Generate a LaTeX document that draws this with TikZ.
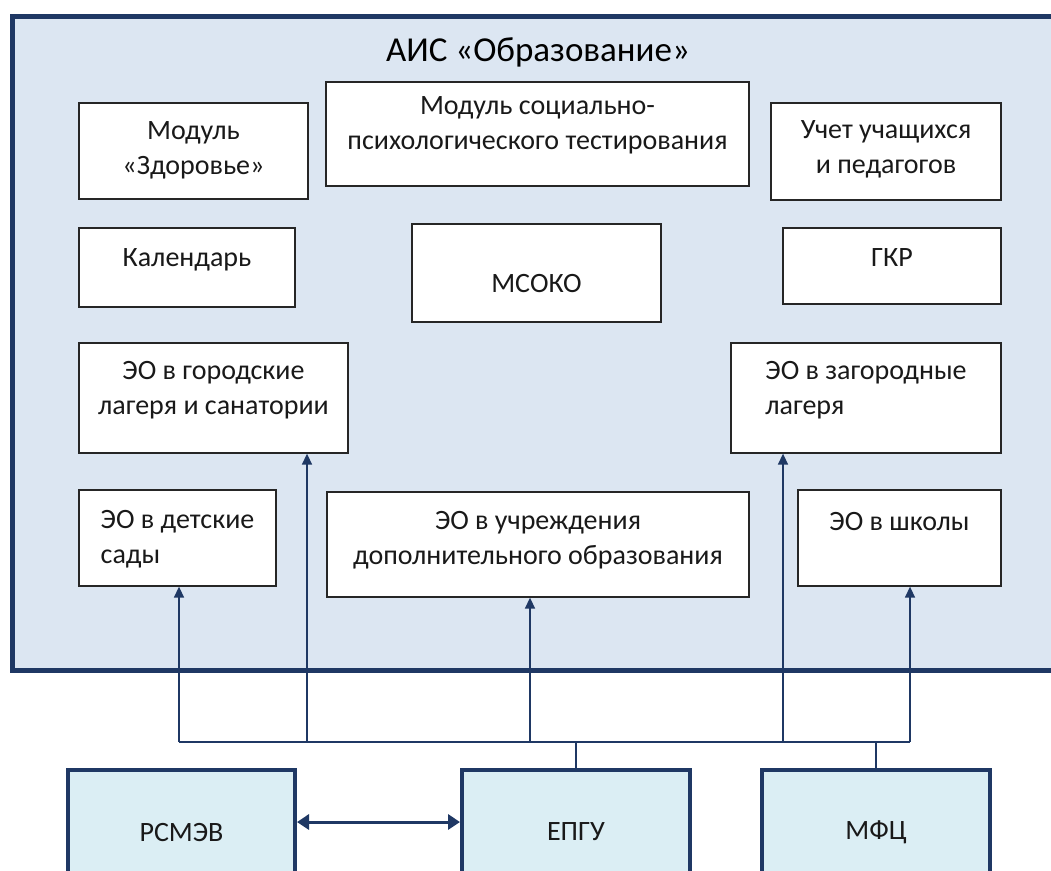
\documentclass[tikz,border=0pt]{standalone}
\usepackage{fontspec}
\setmainfont{Carlito}
\usetikzlibrary{arrows.meta,fit}
\definecolor{frameblue}{HTML}{1F3864}
\definecolor{framefill}{HTML}{DCE6F2}
\definecolor{extfill}{HTML}{DBEEF4}
\definecolor{linecol}{HTML}{1F3864}
\begin{document}
\begin{tikzpicture}[x=1pt,y=-1pt,
 box/.style={draw=black!85, line width=1.3pt, fill=white, inner sep=0pt},
 txt/.style={font=\fontsize{28}{35}\selectfont, align=center, inner sep=0pt, text=black!90},
 ltxt/.style={txt, align=left},
 ext/.style={draw=frameblue, line width=4pt, fill=extfill, inner sep=0pt},
 conn/.style={draw=linecol, line width=1.5pt},
 arr/.style={conn, -{Triangle[length=11pt,width=10pt]}},
 dbl/.style={draw=linecol, line width=3pt, {Triangle[length=12pt,width=15pt]}-{Triangle[length=12pt,width=15pt]}}]
\useasboundingbox (0,0) rectangle (1051,870);
\clip (0,0) rectangle (1051,870);
\fill[white] (0,0) rectangle (1051,870);
\node[draw=frameblue, line width=5pt, fill=framefill, inner sep=0pt, fit={(12,16) (1075,670)}] (ais) {};
\node[font=\fontsize{35}{40}\selectfont, inner sep=0pt] (title) at (538,52) {АИС «Образование»};

\node[box, fit={(79,103) (308,199)}] (zdr) {};
\node[txt] (zdrt) at (193.5,150) {Модуль\\«Здоровье»};
\node[box, fit={(326,82) (749,186)}] (sp) {};
\node[txt] (spt) at (537.5,125) {Модуль социально-\\психологического тестирования};
\node[box, fit={(771,103) (1001,200)}] (uchet) {};
\node[txt] (uchett) at (886,149) {Учет учащихся\\и педагогов};

\node[box, fit={(79,228) (295,307)}] (kal) {};
\node[txt] (kalt) at (187,260) {Календарь};
\node[box, fit={(412,224) (661,322)}] (msoko) {};
\node[txt] (msokot) at (536.5,284) {МСОКО};
\node[box, fit={(783,228) (1001,304)}] (gkr) {};
\node[txt] (gkrt) at (892,258) {ГКР};

\node[box, fit={(79,343) (348,453)}] (gor) {};
\node[txt] (gort) at (213.5,390) {ЭО в городские\\лагеря и санатории};
\node[box, fit={(731,343) (1001,453)}] (zag) {};
\node[ltxt] (zagt) at (866,390) {ЭО в загородные\\лагеря};

\node[box, fit={(79,490) (276,586)}] (sady) {};
\node[ltxt] (sadyt) at (177.5,539) {ЭО в детские\\сады};
\node[box, fit={(327,492) (749,597)}] (uchr) {};
\node[txt] (uchrt) at (538,540) {ЭО в учреждения\\дополнительного образования};
\node[box, fit={(798,490) (1001,586)}] (shk) {};
\node[txt] (shkt) at (899.5,522) {ЭО в школы};

\node[ext, fit={(68,770) (295,894)}] (rsmev) {};
\node[txt] (rsmevt) at (rsmev.center) {РСМЭВ};
\node[ext, fit={(462,770) (690,894)}] (epgu) {};
\node[txt] (epgut) at (epgu.center) {ЕПГУ};
\node[ext, fit={(762,770) (990,894)}] (mfc) {};
\node[txt] (mfct) at (mfc.center) {МФЦ};

\coordinate (b1) at (179,742);
\coordinate (b2) at (307,742);
\coordinate (b3) at (530,742);
\coordinate (b4) at (783,742);
\coordinate (b5) at (910,742);
\draw[conn] (b1) -- (b5);
\draw[arr] (b1) -- (b1 |- sady.south);
\draw[arr] (b2) -- (b2 |- gor.south);
\draw[arr] (b3) -- (b3 |- uchr.south);
\draw[arr] (b4) -- (b4 |- zag.south);
\draw[arr] (b5) -- (b5 |- shk.south);
\draw[conn] (epgu.north) -- (epgu.north |- b1);
\draw[conn] (mfc.north) -- (mfc.north |- b1);
\draw[dbl] ([yshift=10pt]rsmev.east) -- ([yshift=10pt]epgu.west);
\end{tikzpicture}
\end{document}
